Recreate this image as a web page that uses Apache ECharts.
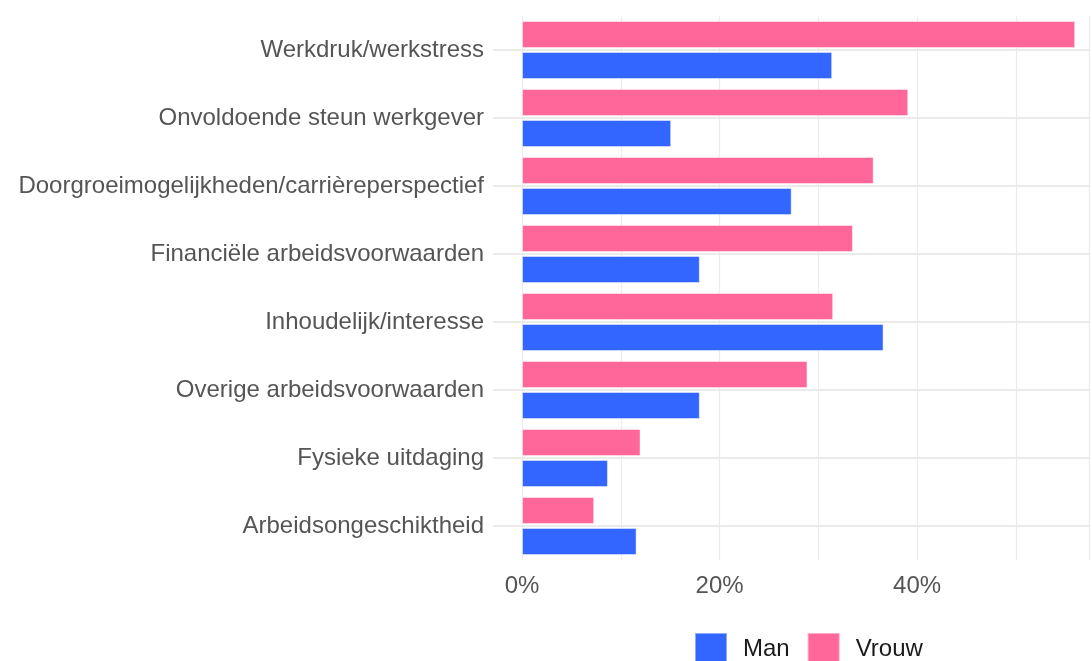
<!DOCTYPE html>
<html>
<head>
<meta charset="utf-8">
<script src="https://cdn.jsdelivr.net/npm/echarts@6/dist/echarts.min.js"></script>
<style>
  html, body { margin: 0; padding: 0; background: #fff; }
  #chart { width: 1092px; height: 661px; }
</style>
</head>
<body>
<div id="chart"></div>
<script>
const categories = [
  'Werkdruk/werkstress',
  'Onvoldoende steun werkgever',
  'Doorgroeimogelijkheden/carrièreperspectief',
  'Financiële arbeidsvoorwaarden',
  'Inhoudelijk/interesse',
  'Overige arbeidsvoorwaarden',
  'Fysieke uitdaging',
  'Arbeidsongeschiktheid'
]
const vrouw = [56.0, 39.1, 35.6, 33.5, 31.5, 28.9, 12.0, 7.3]
const man = [31.4, 15.1, 27.3, 18.0, 36.6, 18.0, 8.7, 11.6]

const gridColor = '#ebebeb'
const textColor = '#555555'

const chart = echarts.init(document.getElementById('chart'))

chart.setOption({
  backgroundColor: '#fff',
  animation: false,
  textStyle: { fontFamily: "'Liberation Sans', Arial, sans-serif" },
  grid: { left: 522, right: 0, top: 16, height: 544 },
  legend: {
    data: ['Man', 'Vrouw'],
    left: 694,
    top: 632,
    padding: 0,
    itemWidth: 32,
    itemHeight: 32,
    itemGap: 17,
    icon: 'rect',
    textStyle: { color: '#1a1a1a', fontSize: 24, padding: [0, 0, 0, 11] }
  },
  xAxis: {
    type: 'value',
    min: 0,
    max: 57.4,
    interval: 10,
    axisLine: { show: false },
    axisTick: { show: false },
    axisLabel: {
      color: textColor,
      fontSize: 24,
      margin: 14,
      formatter: v => (v % 20 === 0 ? v + '%' : '')
    },
    splitLine: { lineStyle: { color: gridColor, width: 1.2 } }
  },
  yAxis: {
    type: 'category',
    data: categories,
    inverse: true,
    axisLine: { show: false },
    axisTick: {
      show: true,
      alignWithLabel: true,
      length: 29,
      lineStyle: { color: gridColor, width: 2 }
    },
    axisLabel: { color: textColor, fontSize: 24, margin: 38 },
    splitLine: {
      show: true,
      alignWithLabel: true,
      lineStyle: { color: gridColor, width: 2 }
    }
  },
  series: [
    {
      name: 'Vrouw',
      type: 'bar',
      data: vrouw,
      barWidth: 27,
      barGap: '15%',
      itemStyle: { color: '#ff6699', borderColor: 'rgba(255,255,255,0.45)', borderWidth: 1 }
    },
    {
      name: 'Man',
      type: 'bar',
      data: man,
      barWidth: 27,
      barGap: '15%',
      itemStyle: { color: '#3366ff', borderColor: 'rgba(255,255,255,0.45)', borderWidth: 1 }
    }
  ]
})
</script>
</body>
</html>
